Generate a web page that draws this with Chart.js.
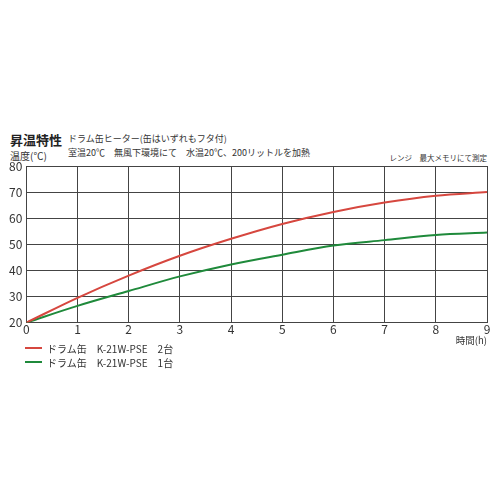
<!DOCTYPE html>
<html>
<head>
<meta charset="utf-8">
<script src="https://cdn.jsdelivr.net/npm/chart.js@4.4.0/dist/chart.umd.min.js"></script>
<style>
  body { margin:0; background:#fff; font-family:"Noto Sans CJK JP", sans-serif; color:#333; }
  #wrap { position:relative; width:500px; height:500px; }
  .t { position:absolute; white-space:pre; line-height:1; }
  #box { position:absolute; left:0; top:140px; width:500px; height:230px; }
  #legend { position:absolute; left:25px; top:341px; font-size:10px; }
  #legend div { height:14px; display:flex; align-items:center; white-space:pre; }
  #legend span.sw { display:inline-block; width:17px; height:2px; margin-right:5px; }
</style>
</head>
<body>
<div id="wrap">
  <div class="t" style="left:10px;top:133px;font-size:13px;font-weight:bold;color:#222">昇温特性</div>
  <div class="t" style="left:68px;top:134px;font-size:9px">ドラム缶ヒーター(缶はいずれもフタ付)</div>
  <div class="t" style="left:68px;top:148px;font-size:9px">室温20℃　無風下環境にて　水温20℃、200リットルを加熱</div>
  <div class="t" style="left:10px;top:151px;font-size:10px">温度(℃)</div>
  <div class="t" style="right:13px;top:154px;font-size:7.5px">レンジ　最大メモリにて測定</div>
  <div id="box"><canvas id="c"></canvas></div>
  <div class="t" style="right:13px;top:336px;font-size:9.5px">時間(h)</div>
  <div id="legend"></div>
</div>
<script>
// hours on the x axis
const HOURS = [0, 1, 2, 3, 4, 5, 6, 7, 8, 9];
// water temperature (°C)
const TEMP_2 = [20, 29.5, 38, 45.6, 52.1, 57.8, 62.4, 66, 68.6, 70];
const TEMP_1 = [20, 26.4, 32.1, 37.7, 42.3, 46, 49.5, 51.6, 53.6, 54.5];
const SERIES_NAMES = ['ドラム缶　K-21W-PSE　2台', 'ドラム缶　K-21W-PSE　1台'];
const COLORS = ['#d6473f', '#1f8a3b'];

const pts = arr => arr.map((v, i) => ({ x: HOURS[i], y: v }));

const datasets = [TEMP_2, TEMP_1].map((arr, i) => ({
  label: SERIES_NAMES[i],
  data: pts(arr),
  borderColor: COLORS[i],
  borderWidth: 2,
  pointRadius: 0,
  cubicInterpolationMode: 'monotone',
  fill: false,
}));

const tickFont = { family: '"Noto Sans CJK JP", sans-serif', size: 12 };

new Chart(document.getElementById('c'), {
  type: 'line',
  data: { datasets },
  options: {
    responsive: true,
    maintainAspectRatio: false,
    animation: false,
    layout: { padding: { left: 5, right: 13, top: 26, bottom: 33 } },
    plugins: { legend: { display: false }, tooltip: { enabled: false } },
    scales: {
      x: {
        type: 'linear', min: 0, max: 9,
        ticks: { stepSize: 1, color: '#333', font: tickFont, padding: 0 },
        grid: { color: '#444', lineWidth: 1, drawTicks: false },
        border: { color: '#444', width: 1 },
      },
      y: {
        min: 20, max: 80,
        ticks: { stepSize: 10, color: '#333', font: tickFont, padding: 4 },
        grid: { color: '#444', lineWidth: 1, drawTicks: false },
        border: { color: '#444', width: 1 },
      },
    },
  },
});

// legend, two rows under the chart
const lg = document.getElementById('legend');
SERIES_NAMES.forEach((name, i) => {
  const row = document.createElement('div');
  row.innerHTML = `<span class="sw" style="background:${COLORS[i]}"></span>${name}`;
  lg.appendChild(row);
});
</script>
</body>
</html>
